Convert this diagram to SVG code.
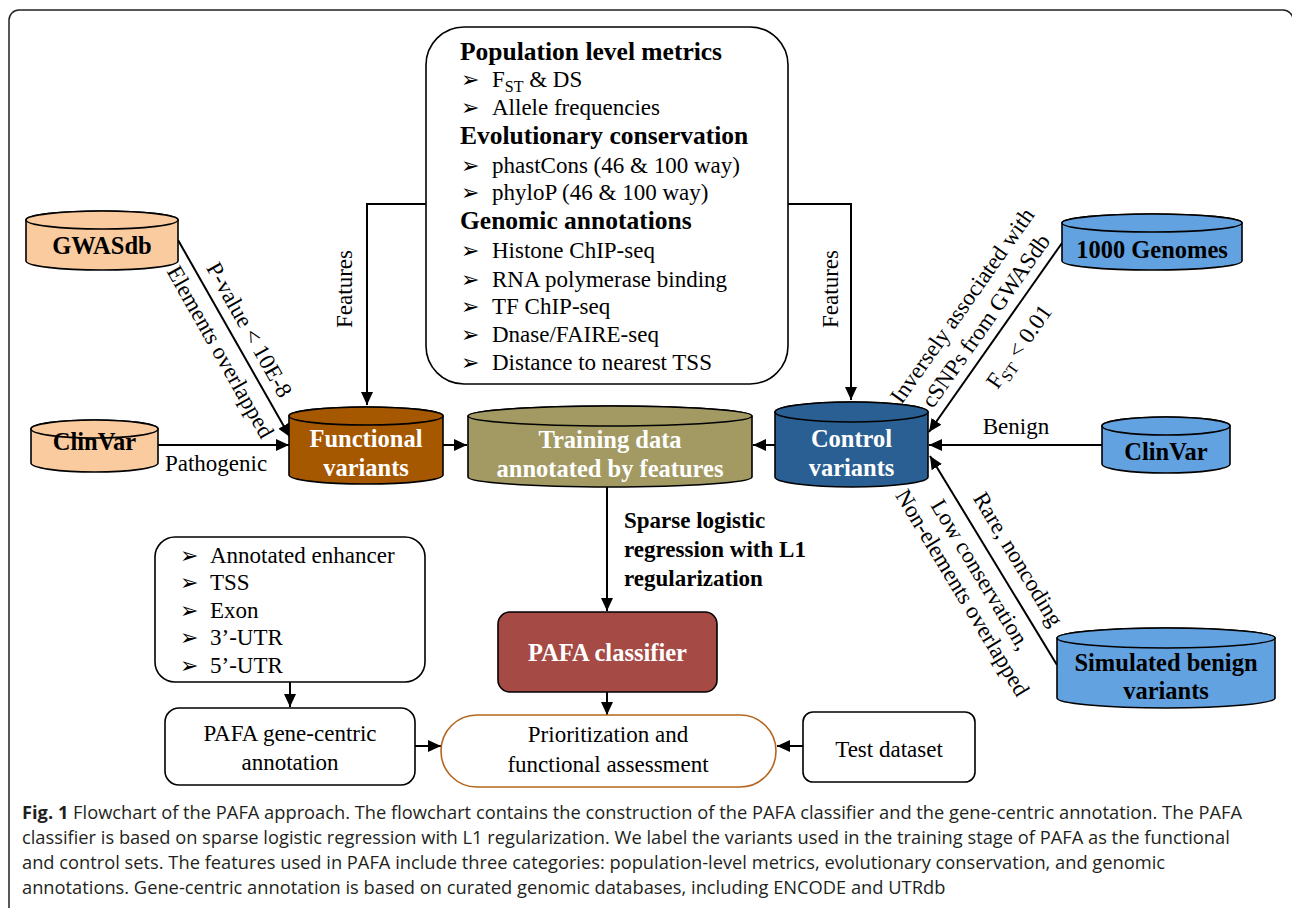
<svg xmlns="http://www.w3.org/2000/svg" width="1292" height="908" viewBox="0 0 1292 908">
<style>
.t{font-family:"Liberation Serif","Times New Roman",serif;font-size:23px;fill:#000}
.lbl{font-family:"Liberation Serif","Times New Roman",serif;font-size:24.5px;font-weight:bold;text-anchor:middle;fill:#000}
.w{fill:#fff}
.h{font-family:"Liberation Serif","Times New Roman",serif;font-size:25.5px;font-weight:bold;fill:#000}
.bul{font-family:"DejaVu Sans",sans-serif;font-size:22px;fill:#000}
.s{stroke:#000;stroke-width:1.6}
.c{stroke:#000;stroke-width:2;fill:none}
.cap{font-family:"Open Sans",sans-serif;font-size:18.3px;fill:#231f20}
.mid{text-anchor:middle}
.peach{fill:#F9CB9F}
.lb{fill:#63A2E0}
</style>
<defs>
<marker id="ah" markerWidth="14" markerHeight="14" refX="13" refY="7" orient="auto" markerUnits="userSpaceOnUse"><path d="M0,1 L13,7 L0,13 Z" fill="#000"/></marker>
</defs>
<path d="M9,912 V20 A10,10 0 0 1 19,10 H1283 A10,10 0 0 1 1293,20" fill="none" stroke="#222" stroke-width="1.5"/>

<g id="connectors">
<path class="c" d="M426,204 H367 V405" marker-end="url(#ah)"/>
<path class="c" d="M788,204 H851 V400" marker-end="url(#ah)"/>
<path class="c" d="M178,240 L290,437" marker-end="url(#ah)"/>
<path class="c" d="M158,445 H289" marker-end="url(#ah)"/>
<path class="c" d="M443,445 H467" marker-end="url(#ah)"/>
<path class="c" d="M775,445 H753" marker-end="url(#ah)"/>
<path class="c" d="M1062,243 L929,432" marker-end="url(#ah)"/>
<path class="c" d="M1102,445 H929" marker-end="url(#ah)"/>
<path class="c" d="M1057,665 L930,456" marker-end="url(#ah)"/>
<path class="c" d="M607,487 V611" marker-end="url(#ah)"/>
<path class="c" d="M607,692 V715" marker-end="url(#ah)"/>
<path class="c" d="M290,682 V707" marker-end="url(#ah)"/>
<path class="c" d="M415,746 H441" marker-end="url(#ah)"/>
<path class="c" d="M803,746 H777" marker-end="url(#ah)"/>
<text class="t mid" transform="translate(352,289) rotate(-90)">Features</text>
<text class="t mid" transform="translate(838,289) rotate(-90)">Features</text>
<g transform="translate(234,338.5) rotate(60.6)">
<text class="t mid" x="0" y="-10">P-value &lt; 10E-8</text>
<text class="t mid" x="5" y="26">Elements overlapped</text>
</g>
<text class="t mid" x="216" y="471">Pathogenic</text>
<g transform="translate(995.5,337.5) rotate(-54.9)">
<text class="t mid" x="7" y="-38">Inversely associated with</text>
<text class="t mid" x="8" y="-10">cSNPs from GWASdb</text>
<text class="t mid" x="6" y="32">F<tspan font-size="16" dy="5">ST</tspan><tspan dy="-5"> &lt; 0.01</tspan></text>
</g>
<text class="t mid" x="1016" y="434">Benign</text>
<g transform="translate(993.5,560) rotate(58.9)">
<text class="t mid" x="12" y="-14">Rare, noncoding</text>
<text class="t mid" x="6" y="26">Low conservation,</text>
<text class="t mid" x="12" y="51">Non-elements overlapped</text>
</g>
<text class="t" font-weight="bold" font-size="23.5" x="624" y="528">Sparse logistic</text>
<text class="t" font-weight="bold" font-size="23.5" x="624" y="557">regression with L1</text>
<text class="t" font-weight="bold" font-size="23.5" x="624" y="586">regularization</text>
</g>

<g id="features">
<rect x="426" y="27" width="362" height="357" rx="38" fill="#fff" class="s"/>
<text class="h" x="460" y="60">Population level metrics</text>
<text class="bul" x="461" y="87">➢</text><text class="t" x="492" y="87">F<tspan font-size="16" dy="5">ST</tspan><tspan dy="-5"> &amp; DS</tspan></text>
<text class="bul" x="461" y="115">➢</text><text class="t" x="492" y="115">Allele frequencies</text>
<text class="h" x="460" y="144">Evolutionary conservation</text>
<text class="bul" x="461" y="173">➢</text><text class="t" x="492" y="173">phastCons (46 &amp; 100 way)</text>
<text class="bul" x="461" y="200">➢</text><text class="t" x="492" y="200">phyloP (46 &amp; 100 way)</text>
<text class="h" x="460" y="229">Genomic annotations</text>
<text class="bul" x="461" y="258">➢</text><text class="t" x="492" y="258">Histone ChIP-seq</text>
<text class="bul" x="461" y="287">➢</text><text class="t" x="492" y="287">RNA polymerase binding</text>
<text class="bul" x="461" y="314">➢</text><text class="t" x="492" y="314">TF ChIP-seq</text>
<text class="bul" x="461" y="342">➢</text><text class="t" x="492" y="342">Dnase/FAIRE-seq</text>
<text class="bul" x="461" y="370">➢</text><text class="t" x="492" y="370">Distance to nearest TSS</text>
</g>

<g id="gwasdb">
<path class="s peach" d="M26,220 V261 A76,9 0 0 0 178,261 V220 A76,9 0 0 0 26,220 Z"/>
<ellipse class="s peach" cx="102" cy="220" rx="76" ry="9"/>
<text class="lbl" x="102" y="254">GWASdb</text>
</g>
<g id="clinvar-left">
<path class="s peach" d="M31,429 V463 A63.5,9 0 0 0 158,463 V429 A63.5,9 0 0 0 31,429 Z"/>
<ellipse class="s peach" cx="94.5" cy="429" rx="63.5" ry="9"/>
<text class="lbl" x="94.5" y="450">ClinVar</text>
</g>
<g id="functional">
<path class="s" fill="#A65800" d="M289,416 V475 A77,9 0 0 0 443,475 V416 A77,9 0 0 0 289,416 Z"/>
<ellipse class="s" fill="#A65800" cx="366" cy="416" rx="77" ry="9"/>
<text class="lbl w" x="366" y="447">Functional</text>
<text class="lbl w" x="366" y="476">variants</text>
</g>
<g id="training">
<path class="s" fill="#A39A63" d="M468,416 V477 A142,10 0 0 0 752,477 V416 A142,10 0 0 0 468,416 Z"/>
<ellipse class="s" fill="#A39A63" cx="610" cy="416" rx="142" ry="10"/>
<text class="lbl w" x="610" y="448">Training data</text>
<text class="lbl w" x="610" y="477">annotated by features</text>
</g>
<g id="control">
<path class="s" fill="#2A5F93" d="M775,412 V477 A76.5,10 0 0 0 928,477 V412 A76.5,10 0 0 0 775,412 Z"/>
<ellipse class="s" fill="#2A5F93" cx="851.5" cy="412" rx="76.5" ry="10"/>
<text class="lbl w" x="851.5" y="447">Control</text>
<text class="lbl w" x="851.5" y="476">variants</text>
</g>
<g id="genomes1000">
<path class="s lb" d="M1062,223 V261 A90,9 0 0 0 1242,261 V223 A90,9 0 0 0 1062,223 Z"/>
<ellipse class="s lb" cx="1152" cy="223" rx="90" ry="9"/>
<text class="lbl" x="1152" y="258">1000 Genomes</text>
</g>
<g id="clinvar-right">
<path class="s lb" d="M1102,426 V464 A64,9 0 0 0 1230,464 V426 A64,9 0 0 0 1102,426 Z"/>
<ellipse class="s lb" cx="1166" cy="426" rx="64" ry="9"/>
<text class="lbl" x="1166" y="460">ClinVar</text>
</g>
<g id="simulated">
<path class="s lb" d="M1057,638 V698 A109,10 0 0 0 1275,698 V638 A109,10 0 0 0 1057,638 Z"/>
<ellipse class="s lb" cx="1166" cy="638" rx="109" ry="10"/>
<text class="lbl" x="1166" y="671">Simulated benign</text>
<text class="lbl" x="1166" y="699">variants</text>
</g>
<g id="regions">
<rect x="155" y="537" width="270" height="145" rx="20" fill="#fff" class="s"/>
<text class="bul" x="180" y="563">➢</text><text class="t" x="210" y="563">Annotated enhancer</text>
<text class="bul" x="180" y="590">➢</text><text class="t" x="210" y="590">TSS</text>
<text class="bul" x="180" y="618">➢</text><text class="t" x="210" y="618">Exon</text>
<text class="bul" x="180" y="645">➢</text><text class="t" x="210" y="645">3’-UTR</text>
<text class="bul" x="180" y="673">➢</text><text class="t" x="210" y="673">5’-UTR</text>
</g>
<g id="gene-centric">
<rect x="165" y="708" width="250" height="77" rx="14" fill="#fff" class="s"/>
<text class="t mid" x="290" y="741">PAFA gene-centric</text>
<text class="t mid" x="290" y="770">annotation</text>
</g>
<g id="classifier">
<rect x="498" y="612" width="219" height="80" rx="12" fill="#A54A44" class="s"/>
<text class="lbl w" x="607.5" y="661">PAFA classifier</text>
</g>
<g id="prioritization">
<rect x="441" y="715" width="335" height="72" rx="36" fill="#fff" stroke="#B5651D" stroke-width="1.6"/>
<text class="t mid" x="608" y="742">Prioritization and</text>
<text class="t mid" x="608" y="772">functional assessment</text>
</g>
<g id="test">
<rect x="803" y="712" width="172" height="70" rx="10" fill="#fff" class="s"/>
<text class="t mid" x="889" y="757">Test dataset</text>
</g>

<g id="caption">
<text class="cap" x="22" y="819"><tspan font-weight="bold">Fig. 1</tspan> Flowchart of the PAFA approach. The flowchart contains the construction of the PAFA classifier and the gene-centric annotation. The PAFA</text>
<text class="cap" x="22" y="844">classifier is based on sparse logistic regression with L1 regularization. We label the variants used in the training stage of PAFA as the functional</text>
<text class="cap" x="22" y="869">and control sets. The features used in PAFA include three categories: population-level metrics, evolutionary conservation, and genomic</text>
<text class="cap" x="22" y="894">annotations. Gene-centric annotation is based on curated genomic databases, including ENCODE and UTRdb</text>
</g>
</svg>
